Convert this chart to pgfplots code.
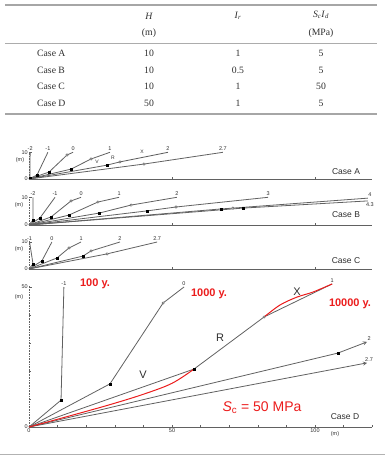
\documentclass[border=0pt]{standalone}
\usepackage{fontspec}
\setmainfont{Liberation Serif}
\setsansfont{Liberation Sans}
\usepackage{pgfplots}
\pgfplotsset{compat=1.18}
\definecolor{lg}{gray}{0.38}
\definecolor{tg}{gray}{0.18}
\definecolor{rd}{RGB}{235,28,28}
\newcommand{\sm}{\sffamily\fontsize{5.5}{6}\selectfont}
\tikzset{lab/.style={pos=1, anchor=south, inner sep=1pt, font=\sm, text=tg}}
\pgfplotsset{
  prof/.style={lg, line width=0.8pt, mark=none},
  smk/.style={only marks, mark=square*, mark size=0.85pt, mark options={fill=black, draw=black}},
  hmk/.style={only marks, mark=*, mark size=1.2pt, mark options={fill=white, draw=lg, line width=0.5pt}},
  casebase/.style={
    x=2.86pt, xmin=0, xmax=120, ymin=0,
    anchor=south west, clip=false,
    axis x line=bottom, axis y line=left,
    axis line style={-},
    x axis line style={lg, line width=0.85pt},
    y axis line style={lg, densely dotted, line width=0.6pt},
    tick align=inside, major tick length=2.5pt, minor tick length=1.8pt,
    tick style={lg, line width=0.5pt},
    ticklabel style={font=\sm, text=tg, inner sep=1pt},
    /pgf/number format/assume math mode=true,
  },
  smallcase/.style={casebase, ymax=10.3, xtick={50,100}, xticklabels={}, ytick={0,10}},
}
\begin{document}
\begin{tikzpicture}
\path[use as bounding box] (0,0) rectangle (385pt,-455pt);
% ---------- table ----------
\draw[gray!70, line width=1.7pt] (5pt,-5pt) -- (377pt,-5pt);
\draw[gray!65, line width=0.8pt] (5pt,-43.5pt) -- (377pt,-43.5pt);
\draw[gray!70, line width=1.4pt] (5pt,-114pt) -- (377pt,-114pt);
\begin{scope}[every node/.style={font=\fontsize{9.7}{11}\selectfont, text=tg, inner sep=0pt}]
\node at (149pt,-16pt) {\textit{H}};
\node at (149pt,-33pt) {(m)};
\node at (238pt,-16pt) {\textit{I}\textsubscript{\textit{r}}};
\node at (321pt,-15pt) {\textit{S}\textsubscript{\textit{c}}\textit{I}\textsubscript{\textit{d}}};
\node at (321pt,-33pt) {(MPa)};
\node[anchor=west] at (37pt,-53pt) {Case A};
\node[anchor=west] at (37pt,-70pt) {Case B};
\node[anchor=west] at (37pt,-86pt) {Case C};
\node[anchor=west] at (37pt,-103pt) {Case D};
\node at (149pt,-53pt) {10}; \node at (238pt,-53pt) {1};   \node at (321pt,-53pt) {5};
\node at (149pt,-70pt) {10}; \node at (238pt,-70pt) {0.5}; \node at (321pt,-70pt) {5};
\node at (149pt,-86pt) {10}; \node at (238pt,-86pt) {1};   \node at (321pt,-86pt) {50};
\node at (149pt,-103pt) {50}; \node at (238pt,-103pt) {1};  \node at (321pt,-103pt) {5};
\end{scope}
% ---------- Case A ----------
\begin{axis}[smallcase, y=2.67pt, at={(29pt,-179pt)}]
\addplot[prof] coordinates {(0,0)(0.3,0.5)(0.4,10)} node[lab]{-2};
\addplot[prof] coordinates {(0,0)(2.8,1.5)(6.6,10)} node[lab]{-1};
\addplot[prof] coordinates {(0,0)(7,2.6)(13.3,9.0)(15.4,10)} node[lab]{0};
\addplot[prof] coordinates {(0,0)(14.7,3.7)(21.7,7.5)(28.3,10)} node[lab]{1};
\addplot[prof] coordinates {(0,0)(27.3,5.2)(31.8,6.4)(48.6,10)} node[lab]{2};
\addplot[prof] coordinates {(0,0)(40.2,5.6)(67.8,10)} node[lab]{2.7};
\addplot[smk] coordinates {(0.3,0.5)(2.8,1.5)(7,2.6)(14.7,3.7)(27.3,5.2)};
\addplot[hmk] coordinates {(13.3,9.0)(21.7,7.5)(31.8,6.4)(40.2,5.6)};
\end{axis}
% ---------- Case B ----------
\begin{axis}[smallcase, y=2.77pt, at={(29pt,-225pt)}]
\addplot[prof] coordinates {(0,0)(1.4,1.8)(1.4,10)} node[lab]{-2};
\addplot[prof] coordinates {(0,0)(3.8,2.5)(9.1,10)} node[lab]{-1};
\addplot[prof] coordinates {(0,0)(7.7,2.9)(14.7,8.7)(18.2,10)} node[lab]{0};
\addplot[prof] coordinates {(0,0)(14.0,3.6)(24.1,8.3)(31.5,10)} node[lab]{1};
\addplot[prof] coordinates {(0,0)(24.5,4.3)(35.7,7.2)(51.7,10)} node[lab]{2};
\addplot[prof] coordinates {(0,0)(41.3,5.1)(51.4,6.5)(83.6,10)} node[lab]{3};
\addplot[prof] coordinates {(0,0)(67.1,5.8)(71.3,6.1)(118.5,9.7)} node[lab, xshift=2pt]{4};
\addplot[prof] coordinates {(0,0)(74.8,6.1)(118.5,8.7)} node[lab, anchor=north, xshift=2pt]{4.3};
\addplot[smk] coordinates {(1.4,1.8)(3.8,2.5)(7.7,2.9)(14.0,3.6)(24.5,4.3)(41.3,5.1)(67.1,5.8)(74.8,6.1)};
\addplot[hmk] coordinates {(14.7,8.7)(24.1,8.3)(35.7,7.2)(51.4,6.5)(71.3,6.1)};
\end{axis}
% ---------- Case C ----------
\begin{axis}[smallcase, y=2.7pt, at={(29pt,-269pt)}]
\addplot[prof] coordinates {(0,0)(1.4,1.9)(0.2,10)} node[lab]{-1};
\addplot[prof] coordinates {(0,0)(4.5,3.0)(8.0,10)} node[lab]{0};
\addplot[prof] coordinates {(0,0)(9.8,4.1)(14.0,7.8)(18.2,10)} node[lab]{1};
\addplot[prof] coordinates {(0,0)(18.9,4.8)(21.7,6.7)(31.8,10)} node[lab]{2};
\addplot[prof] coordinates {(0,0)(27.3,5.6)(44.8,10)} node[lab]{2.7};
\addplot[smk] coordinates {(1.4,1.9)(4.5,3.0)(9.8,4.1)(18.9,4.8)};
\addplot[hmk] coordinates {(14.0,7.8)(21.7,6.7)(27.3,5.6)};
\end{axis}
% ---------- Case D ----------
\begin{axis}[casebase, y=2.8pt, ymax=50.3, at={(29pt,-427pt)},
  xtick={0,50,100}, minor xtick={10,20,30,40,60,70,80,90,110,120},
  ytick={0,50}, minor ytick={10,20,30,40}]
\addplot[prof] coordinates {(0,0)(11.2,9.6)(12.2,50)} node[lab]{-1};
\addplot[prof] coordinates {(0,0)(28.3,15.4)(46.9,44.3)(54.2,50)} node[lab]{0};
\addplot[prof] coordinates {(0,0)(57.7,20.7)(82.2,39.3)(106,51.1)} node[lab]{1};
\addplot[prof, -stealth] coordinates {(0,0)(108,26.4)(118.2,30.4)} node[lab, xshift=2pt]{2};
\addplot[prof, -stealth] coordinates {(0,0)(118.2,22.9)} node[lab, xshift=2pt]{2.7};
\addplot[rd, line width=1pt, smooth, tension=0.55] coordinates {(0,0)(14,3.9)(28,7.9)(40,11.7)(50,15.6)(57.7,20.7)};
\addplot[rd, line width=1pt, smooth, tension=0.5] coordinates {(82.2,39.3)(87.8,43.6)(93.7,46.4)(99.3,48.2)(106,51.1)};
\addplot[smk] coordinates {(11.2,9.6)(28.3,15.4)(57.7,20.7)(108,26.4)};
\addplot[hmk] coordinates {(46.9,44.3)(82.2,39.3)};
\end{axis}
% ---------- annotations ----------
\begin{scope}[every node/.style={inner sep=0pt, text=tg}]
\node[font=\sm] at (20pt,-160pt) {(m)};
\node[font=\sm] at (19pt,-205pt) {(m)};
\node[font=\sm] at (19pt,-249pt) {(m)};
\node[font=\sm] at (19pt,-297pt) {(m)};
\node[font=\sm] at (335pt,-434pt) {(m)};
\node[font=\sffamily\fontsize{5}{6}\selectfont] at (97pt,-162pt) {V};
\node[font=\sffamily\fontsize{5}{6}\selectfont] at (113pt,-158pt) {R};
\node[font=\sffamily\fontsize{5}{6}\selectfont] at (142pt,-152pt) {X};
\node[font=\sffamily\fontsize{8.5}{10}\selectfont] at (346pt,-172pt) {Case A};
\node[font=\sffamily\fontsize{8.5}{10}\selectfont] at (346pt,-215pt) {Case B};
\node[font=\sffamily\fontsize{8.5}{10}\selectfont] at (346pt,-261pt) {Case C};
\node[font=\sffamily\fontsize{8.5}{10}\selectfont] at (345pt,-417pt) {Case D};
\node[font=\sffamily\fontsize{11}{12}\selectfont] at (143pt,-375pt) {V};
\node[font=\sffamily\fontsize{11}{12}\selectfont] at (220pt,-338pt) {R};
\node[font=\sffamily\fontsize{11}{12}\selectfont] at (297pt,-292pt) {X};
\node[font=\sffamily\bfseries\fontsize{11}{12}\selectfont, text=rd] at (95pt,-284pt) {100 y.};
\node[font=\sffamily\bfseries\fontsize{11}{12}\selectfont, text=rd] at (209pt,-294pt) {1000 y.};
\node[font=\sffamily\bfseries\fontsize{11}{12}\selectfont, text=rd] at (350pt,-304pt) {10000 y.};
\node[font=\sffamily\fontsize{14}{16}\selectfont, text=rd] at (262pt,-408pt) {\textit{S}\textsubscript{c} = 50 MPa};
\end{scope}
\draw[gray!60, line width=1pt] (0,-454pt) -- (385pt,-454pt);
\end{tikzpicture}
\end{document}
